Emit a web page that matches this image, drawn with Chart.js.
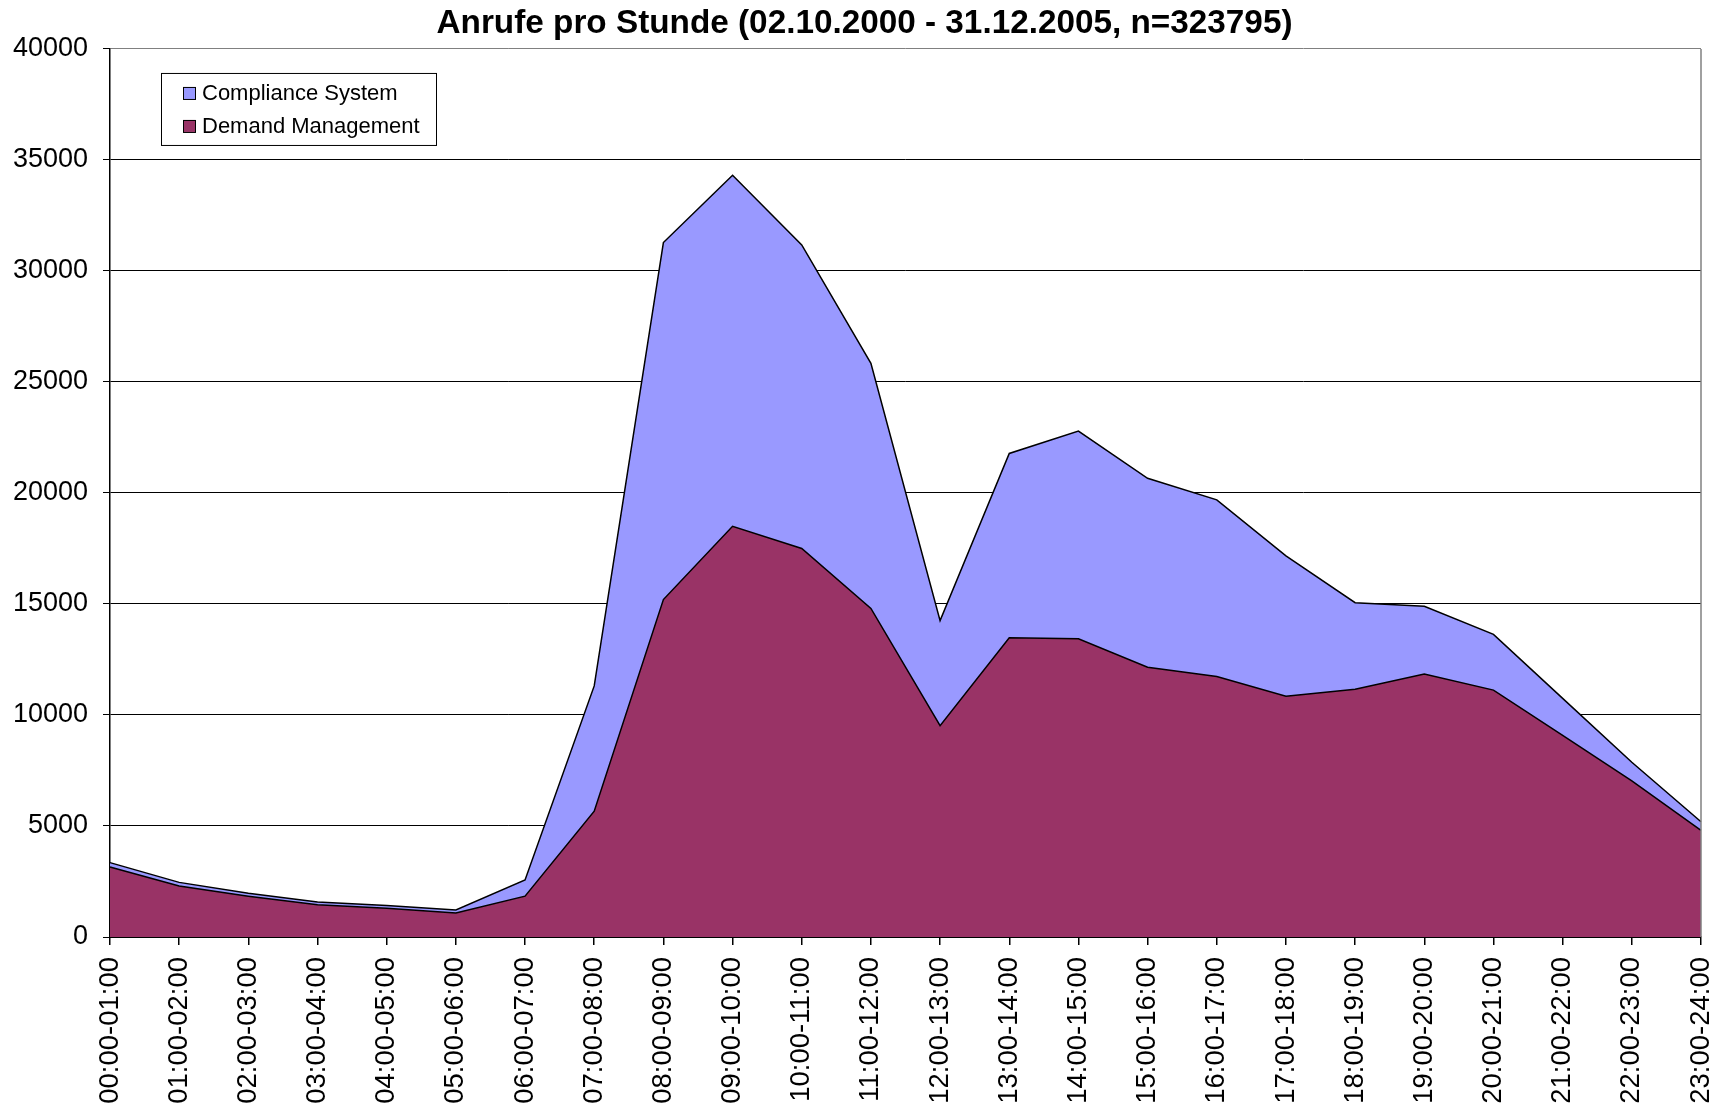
<!DOCTYPE html>
<html>
<head>
<meta charset="utf-8">
<script src="https://cdn.jsdelivr.net/npm/chart.js@4"></script>
<style>
    body { margin: 0; background: #fff; }
    #wrap { width: 1729px; height: 1110px; }
</style>
</head>
<body>
<div id="wrap"><canvas id="chart"></canvas></div>
<script>
// Daten
const hourLabels = [
    '00:00-01:00', '01:00-02:00', '02:00-03:00', '03:00-04:00', '04:00-05:00', '05:00-06:00',
    '06:00-07:00', '07:00-08:00', '08:00-09:00', '09:00-10:00', '10:00-11:00', '11:00-12:00',
    '12:00-13:00', '13:00-14:00', '14:00-15:00', '15:00-16:00', '16:00-17:00', '17:00-18:00',
    '18:00-19:00', '19:00-20:00', '20:00-21:00', '21:00-22:00', '22:00-23:00', '23:00-24:00'
];
const demandManagement = [
    3150, 2300, 1840, 1450, 1290, 1080, 1840, 5670, 15200, 18500, 17500, 14800,
    9520, 13480, 13430, 12150, 11730, 10840, 11160, 11850, 11120, 9080, 7030, 4800
];
const complianceSystem = [
    200, 160, 130, 130, 130, 140, 730, 5640, 16080, 15810, 13670, 11040,
    4730, 8300, 9360, 8510, 7960, 6330, 3900, 3050, 2510, 1670, 840, 390
];
const yTicks = [0, 5000, 10000, 15000, 20000, 25000, 30000, 35000, 40000];
const titleText = 'Anrufe pro Stunde (02.10.2000 - 31.12.2005, n=323795)';

const FONT = "'Liberation Sans', Arial, sans-serif";

// Titel über die ganze Breite zentrieren
const centerTitle = {
    id: 'centerTitle',
    afterLayout(chart) {
        const t = chart.titleBlock;
        if (!t) return;
        t.left = 0;
        t.right = chart.width;
        t.width = chart.width;
    }
};

// Legende im Diagramm (mit Rahmen) und rechter Rand
const boxLegend = {
    id: 'boxLegend',
    afterDraw(chart) {
        const ctx = chart.ctx;
        const area = chart.chartArea;

        ctx.save();
        ctx.strokeStyle = '#808080';
        ctx.lineWidth = 1.5;
        ctx.beginPath();
        ctx.moveTo(area.right, area.top);
        ctx.lineTo(area.right, area.bottom);
        ctx.stroke();

        const x = area.left + 51;
        const y = area.top + 24;
        const w = 275;
        const h = 72;
        ctx.fillStyle = '#fff';
        ctx.fillRect(x, y, w, h);
        ctx.strokeStyle = '#000';
        ctx.lineWidth = 1;
        ctx.strokeRect(x + 0.5, y + 0.5, w, h);

        // Reihenfolge wie im Original: oberer Stapel zuerst
        const items = chart.data.datasets.slice().reverse();
        ctx.font = '22px ' + FONT;
        ctx.textBaseline = 'middle';
        items.forEach((ds, i) => {
            const cy = y + 20 + i * 33;
            ctx.fillStyle = ds.backgroundColor;
            ctx.fillRect(x + 22, cy - 6, 12, 12);
            ctx.strokeStyle = '#000';
            ctx.strokeRect(x + 22.5, cy - 5.5, 12, 12);
            ctx.fillStyle = '#000';
            ctx.fillText(ds.label, x + 41, cy + 1);
        });
        ctx.restore();
    }
};

new Chart(document.getElementById('chart'), {
    type: 'line',
    data: {
        labels: hourLabels,
        datasets: [
            {
                label: 'Demand Management',
                data: demandManagement,
                backgroundColor: '#993366',
                borderColor: '#000',
                borderWidth: 1.5,
                fill: 'origin',
                pointRadius: 0,
                tension: 0
            },
            {
                label: 'Compliance System',
                data: complianceSystem,
                backgroundColor: '#9999FF',
                borderColor: '#000',
                borderWidth: 1.5,
                fill: '-1',
                pointRadius: 0,
                tension: 0
            }
        ]
    },
    options: {
        responsive: true,
        maintainAspectRatio: false,
        animation: false,
        layout: { padding: { left: 13, right: 28, top: 0, bottom: 0 } },
        plugins: {
            legend: { display: false },
            tooltip: { enabled: false },
            title: {
                display: true,
                text: titleText,
                color: '#000',
                font: { family: FONT, size: 33.3, weight: 'bold' },
                padding: { top: 4, bottom: 5 }
            }
        },
        scales: {
            x: {
                grid: { drawOnChartArea: false, tickLength: 8, color: '#000', lineWidth: 1.5 },
                border: { color: '#000', width: 2 },
                ticks: {
                    autoSkip: false,
                    minRotation: 90,
                    maxRotation: 90,
                    padding: 12,
                    color: '#000',
                    font: { family: FONT, size: 27.5 }
                },
                afterFit: (axis) => {
                    axis.height = 173;
                    axis.paddingLeft = 0;
                    axis.paddingRight = 0;
                }
            },
            y: {
                stacked: true,
                min: 0,
                max: 40000,
                afterBuildTicks: (axis) => { axis.ticks = yTicks.map(v => ({ value: v })); },
                afterFit: (axis) => { axis.width = 97; },
                grid: {
                    color: (c) => c.tick && c.tick.value === 40000 ? '#808080' : '#000',
                    lineWidth: 1,
                    tickLength: 7,
                    tickColor: '#000'
                },
                border: { color: '#000', width: 1.5 },
                ticks: {
                    padding: 15,
                    color: '#000',
                    font: { family: FONT, size: 27 },
                    callback: (v) => String(v)
                }
            }
        }
    },
    plugins: [centerTitle, boxLegend]
});
</script>
</body>
</html>
